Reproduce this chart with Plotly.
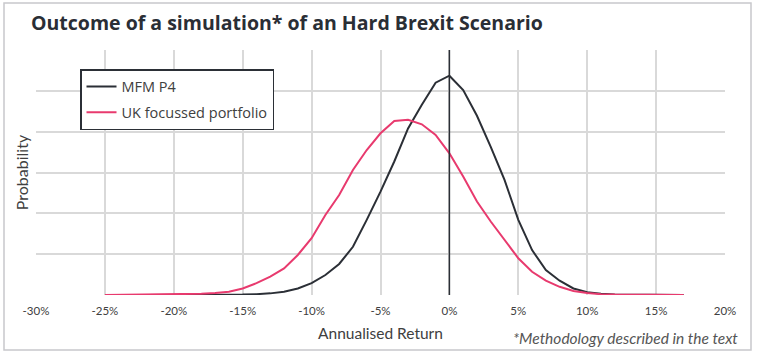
import plotly.graph_objects as go

returns_mfm = list(range(-22, 18))
mfm_p4 = [0.0, 0.0, 0.005, 0.005, 0.005, 0.005, 0.01, 0.01, 0.02, 0.04,
          0.08, 0.16, 0.29, 0.49, 0.76, 1.18, 1.84, 2.53, 3.27, 4.08,
          4.66, 5.20, 5.37, 5.02, 4.39, 3.63, 2.82, 1.84, 1.10, 0.61,
          0.35, 0.16, 0.07, 0.03, 0.01, 0.005, 0.005, 0.005, 0.0, 0.0]

returns_uk = list(range(-25, 18))
uk_portfolio = [0.0, 0.005, 0.01, 0.01, 0.015, 0.02, 0.02, 0.03, 0.05, 0.08,
                0.16, 0.29, 0.45, 0.65, 0.98, 1.39, 1.96, 2.45, 3.06, 3.55,
                3.96, 4.26, 4.29, 4.18, 3.92, 3.47, 2.90, 2.29, 1.80, 1.35,
                0.90, 0.57, 0.35, 0.20, 0.10, 0.05, 0.02, 0.01, 0.01, 0.005,
                0.005, 0.0, 0.0]

x_ticks = list(range(-30, 21, 5))
x_tick_labels = [f"{v}%" for v in x_ticks]

BLACK = "#2b2f36"
PINK = "#e83a6e"
GRID = "#d9d9d9"
FONT = "Lato"

fig = go.Figure()
fig.add_trace(go.Scatter(x=returns_mfm, y=mfm_p4, mode="lines", name="MFM P4",
                         legendgroup="a",
                         line=dict(color=BLACK, width=2)))
fig.add_trace(go.Scatter(x=returns_uk, y=uk_portfolio, mode="lines",
                         name="UK focussed portfolio", legendgroup="b",
                         line=dict(color=PINK, width=2)))

fig.update_layout(
    width=759, height=355,
    margin=dict(l=36, r=34, t=50, b=60, autoexpand=False),
    paper_bgcolor="white", plot_bgcolor="white",
    font=dict(family=FONT, color="#404040"),
    title=dict(text="<b>Outcome of a simulation* of an Hard Brexit Scenario</b>",
               x=31/759, xanchor="left", y=1-23/355, yanchor="middle",
               font=dict(family="Open Sans", size=19.5, color="#2a2e35")),
    showlegend=True,
    legend=dict(x=(80-36)/689, xanchor="left", y=(295-69)/245, yanchor="top",
                bgcolor="white", bordercolor=BLACK, borderwidth=1.5,
                font=dict(family="Open Sans", size=14.5, color="#404040"),
                tracegroupgap=4),
    xaxis=dict(range=[-30, 20], tickvals=x_ticks, ticktext=x_tick_labels,
               showgrid=True, gridcolor=GRID, gridwidth=1.5, automargin=False,
               zeroline=False, showline=False, ticks="", ticklabelstandoff=7,
               tickfont=dict(family=FONT, size=11.5, color="#404040"),
               title=dict(text="Annualised Return", standoff=12,
                          font=dict(family=FONT, size=15.5, color="#404040"))),
    yaxis=dict(range=[0, 6], dtick=1, showticklabels=False, automargin=False,
               showgrid=True, gridcolor=GRID, gridwidth=1.5,
               zeroline=False, showline=False, ticks="",
               title=dict(text="Probability", standoff=2,
                          font=dict(family=FONT, size=16, color="#404040"))),
)

fig.add_shape(type="line", xref="x", yref="paper", x0=0, x1=0, y0=0, y1=1,
              line=dict(color=BLACK, width=1.5))
fig.add_shape(type="rect", xref="paper", yref="paper",
              x0=(4-36)/689, x1=(751-36)/689, y0=(295-350)/245, y1=(295-3)/245,
              line=dict(color="#c8c8cc", width=1.5))
fig.add_annotation(text="<i>*Methodology described in the text</i>",
                   xref="paper", yref="paper", x=(740-36)/689, y=(295-338)/245,
                   xanchor="right", yanchor="middle", showarrow=False,
                   font=dict(family=FONT, size=15.5, color="#555555"))

fig.write_html("out.html", config={"displayModeBar": False},
               post_script="document.body.style.margin='0';"
                           "document.body.style.overflow='hidden';")
